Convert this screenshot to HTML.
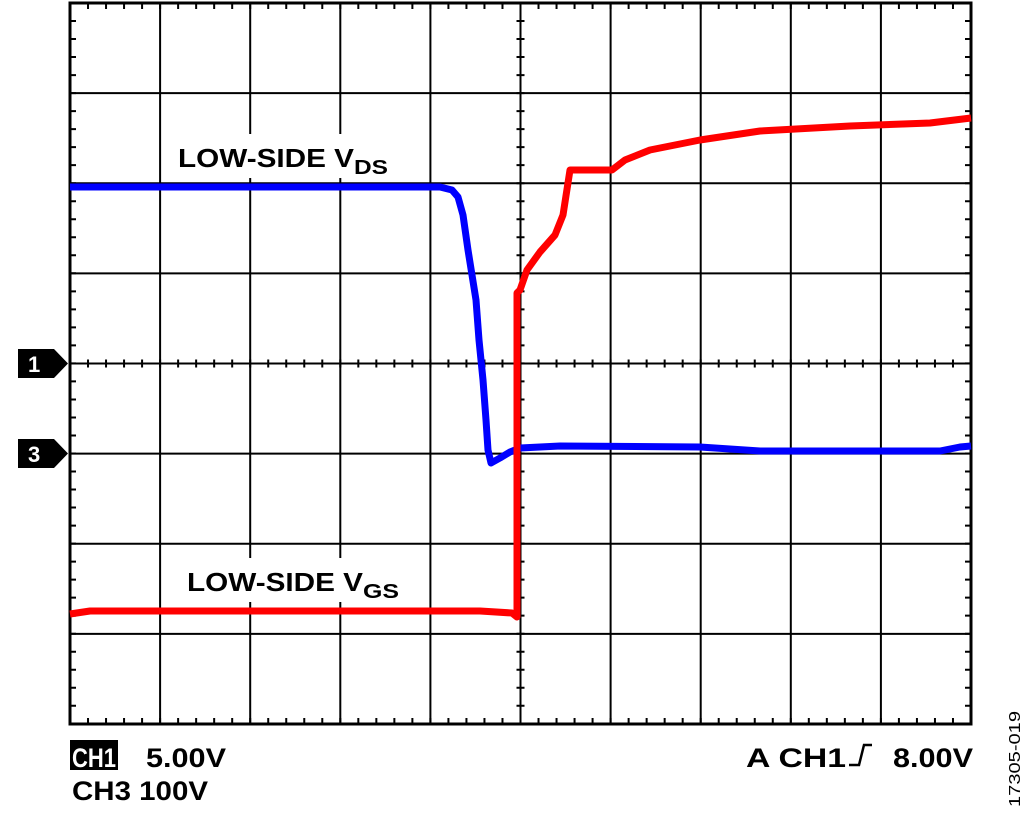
<!DOCTYPE html>
<html><head><style>body{margin:0;background:#fff}svg{display:block}</style></head><body>
<svg width="1027" height="815" xmlns="http://www.w3.org/2000/svg" font-family="Liberation Sans, sans-serif" font-weight="bold">
<g stroke="#000" stroke-width="2" fill="none">
<path d="M160.1 3V724M250.2 3V724M340.3 3V724M430.4 3V724M520.5 3V724M610.6 3V724M700.7 3V724M790.8 3V724M880.9 3V724"/>
<path d="M70 93.1H971M70 183.2H971M70 273.4H971M70 363.5H971M70 453.6H971M70 543.8H971M70 633.9H971"/>
</g>
<g id="ticks" stroke="#000" stroke-width="2">
<path id="tk" d=""/>
</g>
<script>
(function(){var d="";for(var i=1;i<50;i++){var x=70+i*18.02;d+="M"+x+" 3v6M"+x+" 724v-6M"+x+" 359.5v8";}
for(var j=1;j<40;j++){var y=3+j*18.02;d+="M70 "+y+"h6M971 "+y+"h-6M516.5 "+y+"h8";}
document.getElementById("tk").setAttribute("d",d);})();
</script>
<rect x="70" y="3" width="901" height="721" fill="none" stroke="#000" stroke-width="3"/>
<rect x="172" y="134" width="222" height="44" fill="#fff"/>
<rect x="182" y="558" width="222" height="44" fill="#fff"/>
<polyline fill="none" stroke="#00f" stroke-width="7" stroke-linejoin="round" points="70,187 300,187 440,187 452,190 458,197 463,215 468,250 472,275 476,300 479,340 483,380 486,420 488,450 491,463 500,458 510,452 520,448 560,446 700,447 760,451 940,451 960,447 971,446"/>
<polyline fill="none" stroke="#f00" stroke-width="7" stroke-linejoin="round" points="70,614 90,611 480,611 512,613 517,617 517,293 520,290 527,270 540,252 555,235 563,215 570,170 612,170 625,160 650,150 700,140 760,131 850,126 930,123 971,118"/>
<text x="178" y="167" font-size="26" textLength="176" lengthAdjust="spacingAndGlyphs">LOW-SIDE V</text>
<text x="354" y="174" font-size="20" textLength="34" lengthAdjust="spacingAndGlyphs">DS</text>
<text x="187" y="591" font-size="26" textLength="176" lengthAdjust="spacingAndGlyphs">LOW-SIDE V</text>
<text x="363" y="598" font-size="20" textLength="36" lengthAdjust="spacingAndGlyphs">GS</text>
<path d="M18 349H54L68 363.5L54 378H18Z" fill="#000"/>
<path d="M18 439H54L68 453.5L54 468H18Z" fill="#000"/>
<text x="28" y="372" font-size="22" fill="#fff">1</text>
<text x="28" y="462" font-size="22" fill="#fff">3</text>
<rect x="70" y="740" width="48" height="30" fill="#000"/>
<text x="72" y="767" font-size="27" fill="#fff" textLength="44" lengthAdjust="spacingAndGlyphs">CH1</text>
<text x="146" y="767" font-size="27" textLength="80" lengthAdjust="spacingAndGlyphs">5.00V</text>
<text x="72" y="800" font-size="27" textLength="136" lengthAdjust="spacingAndGlyphs">CH3 100V</text>
<text x="746" y="767" font-size="27" textLength="100" lengthAdjust="spacingAndGlyphs">A  CH1</text>
<path d="M849 765h10l5-20h8" fill="none" stroke="#000" stroke-width="2.5"/>
<text x="893" y="767" font-size="27" textLength="80" lengthAdjust="spacingAndGlyphs">8.00V</text>
<text transform="translate(1020,807) rotate(-90)" font-size="16" font-weight="normal" textLength="96" lengthAdjust="spacingAndGlyphs">17305-019</text>
</svg>
</body></html>
